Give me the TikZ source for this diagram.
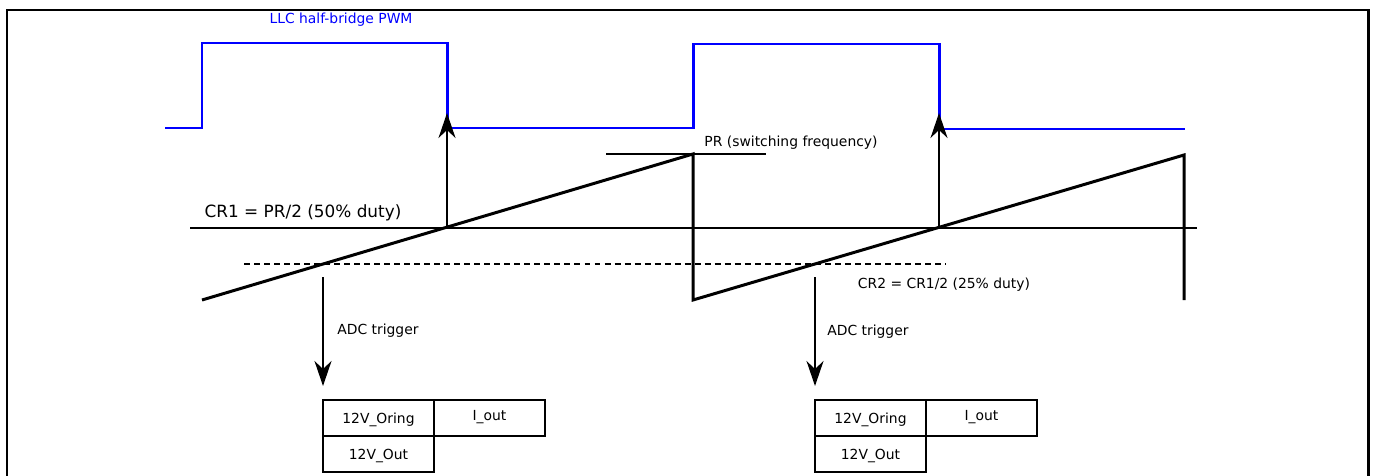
\documentclass[tikz,border=0pt]{standalone}
\usepackage{fontspec}
\setmainfont{DejaVu Sans}
\usetikzlibrary{arrows.meta}
\begin{document}
\begin{tikzpicture}[x=0.02cm, y=-0.02cm,
            wave/.style={line width=1.7pt, line join=miter},
            thin line/.style={line width=1.1pt},
            trig arrow/.style={line width=1.1pt, -{Stealth[length=0.5cm, width=0.34cm, inset=0.16cm]}},
            lbl/.style={font=\fontsize{7.9}{9}\selectfont, inner sep=0pt},
            reg box/.style={draw, line width=1.1pt, minimum width=2.22cm, minimum height=0.72cm, inner sep=0pt, outer sep=0pt, text depth=0pt, anchor=north west, font=\fontsize{7.9}{9}\selectfont},
            ]
            \useasboundingbox (0,0) rectangle (1375,476);
            \draw[line width=1.7pt] (7,476) -- (7,10) -- (1368,10) -- (1368,476);

            % PWM output
            \draw[wave, blue] (165,128) -- (202,128) -- (202,43) -- (447,43) -- (447,128) -- (693,128) -- (693,44) -- (939,44) -- (939,129) -- (1185,129);
            \node[lbl, text=blue] (pwm) at (341,20) {LLC half-bridge PWM};

            % counter ramp
            \draw[wave] (202,300) -- (693,154) -- (693,300) -- (1184,155) -- (1184,300);

            % compare levels
            \draw[thin line] (606,154) -- (766,154);
            \node[lbl] (pr) at (791,143) {PR (switching frequency)};
            \draw[thin line] (190,228) -- (1197,228);
            \node[lbl, font=\fontsize{9.6}{11}\selectfont] (cr1) at (303,213) {CR1 = PR/2 (50\% duty)};
            \draw[line width=0.9pt, dash pattern=on 3.4pt off 2.3pt] (244,264) -- (946,264);
            \node[lbl] (cr2) at (944,285) {CR2 = CR1/2 (25\% duty)};

            % compare events
            \coordinate (up1 tail) at (447,228);
            \coordinate (up1 tip) at (447,113);
            \coordinate (up2 tail) at (939,228);
            \coordinate (up2 tip) at (939,113);
            \draw[trig arrow] (up1 tail) -- (up1 tip);
            \draw[trig arrow] (up2 tail) -- (up2 tip);

            % ADC triggers
            \coordinate (adc1 tail) at (323,277);
            \coordinate (adc2 tail) at (815,277);
            \node[reg box] (oring1) at (323,400) {12V\_Oring};
            \node[reg box] (iout1) at (oring1.north east) {\raisebox{2.8pt}{I\_out}};
            \node[reg box] (out1) at (oring1.south west) {12V\_Out};
            \node[reg box] (oring2) at (815,400) {12V\_Oring};
            \node[reg box] (iout2) at (oring2.north east) {\raisebox{2.8pt}{I\_out}};
            \node[reg box] (out2) at (oring2.south west) {12V\_Out};
            \draw[trig arrow] (adc1 tail) -- ([yshift=0.28cm]oring1.north west);
            \draw[trig arrow] (adc2 tail) -- ([yshift=0.28cm]oring2.north west);
            \node[lbl, anchor=west] (adc1) at (337,331) {ADC trigger};
            \node[lbl, anchor=west] (adc2) at (827,332) {ADC trigger};
        \end{tikzpicture}
\end{document}
